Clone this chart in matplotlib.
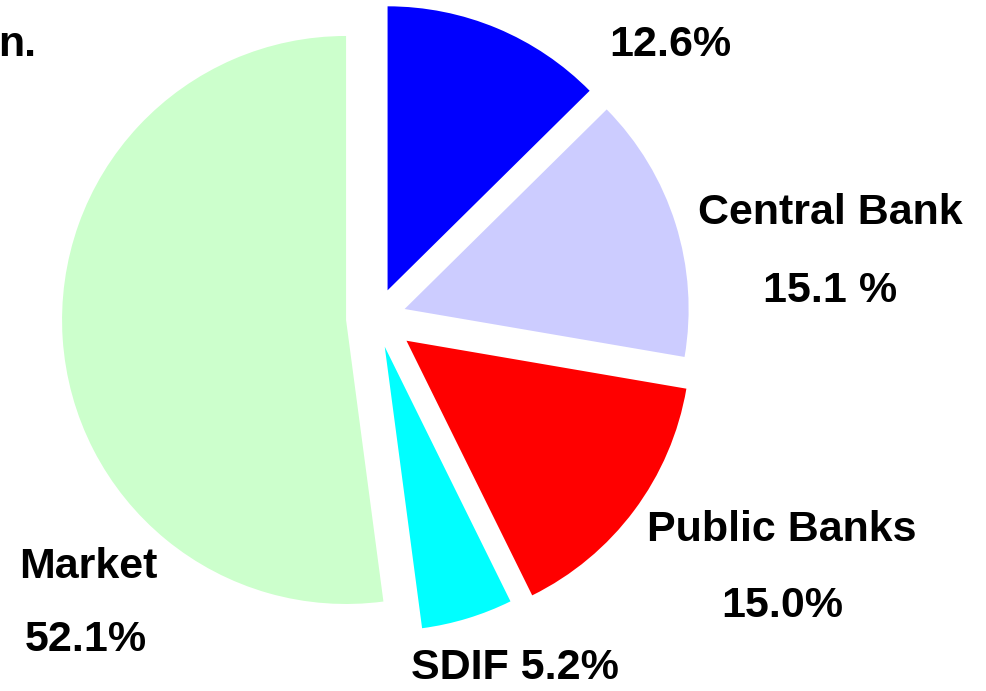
import matplotlib.pyplot as plt

# Shares, clockwise from the top
labels = ["", "Central Bank", "Public Banks", "SDIF", "Market"]
shares = [12.6, 15.1, 15.0, 5.2, 52.1]
pct_text = ["12.6%", "15.1 %", "15.0%", "5.2%", "52.1%"]
colors = ["#0000FF", "#CCCCFF", "#FF0000", "#00FFFF", "#CCFFCC"]

plt.rcParams["font.family"] = ["Liberation Sans", "DejaVu Sans"]

fig = plt.figure(figsize=(9.86, 6.91), dpi=100)
ax = fig.add_axes([0, 0, 1, 1])
ax.set_xlim(0, 986)
ax.set_ylim(0, 691)
ax.set_aspect("equal")
ax.axis("off")

# work in pixel units so explode is in pixels too
ax.pie(shares, colors=colors, startangle=90, counterclock=False,
       explode=[30, 30, 38, 30, 30], radius=284, center=(376, 373),
       wedgeprops=dict(linewidth=0), frame=True)
ax.set_xlim(0, 986)
ax.set_ylim(0, 691)
ax.axis("off")

style = dict(fontsize=31, fontweight="bold", ha="center", va="center")
ax.text(670, 691 - 45, pct_text[0], **style)
ax.text(830, 691 - 213, labels[1], **style)
ax.text(830, 691 - 291, pct_text[1], **style)
ax.text(782, 691 - 530, labels[2], **style)
ax.text(782, 691 - 606, pct_text[2], **style)
ax.text(515, 691 - 668, f"{labels[3]} {pct_text[3]}", **style)
ax.text(88, 691 - 567, labels[4], **style)
ax.text(86, 691 - 640, pct_text[4], **style)
ax.text(-2, 691 - 45, "n.", fontsize=31, fontweight="bold", ha="left", va="center")

fig.savefig("out.png", dpi=100)
